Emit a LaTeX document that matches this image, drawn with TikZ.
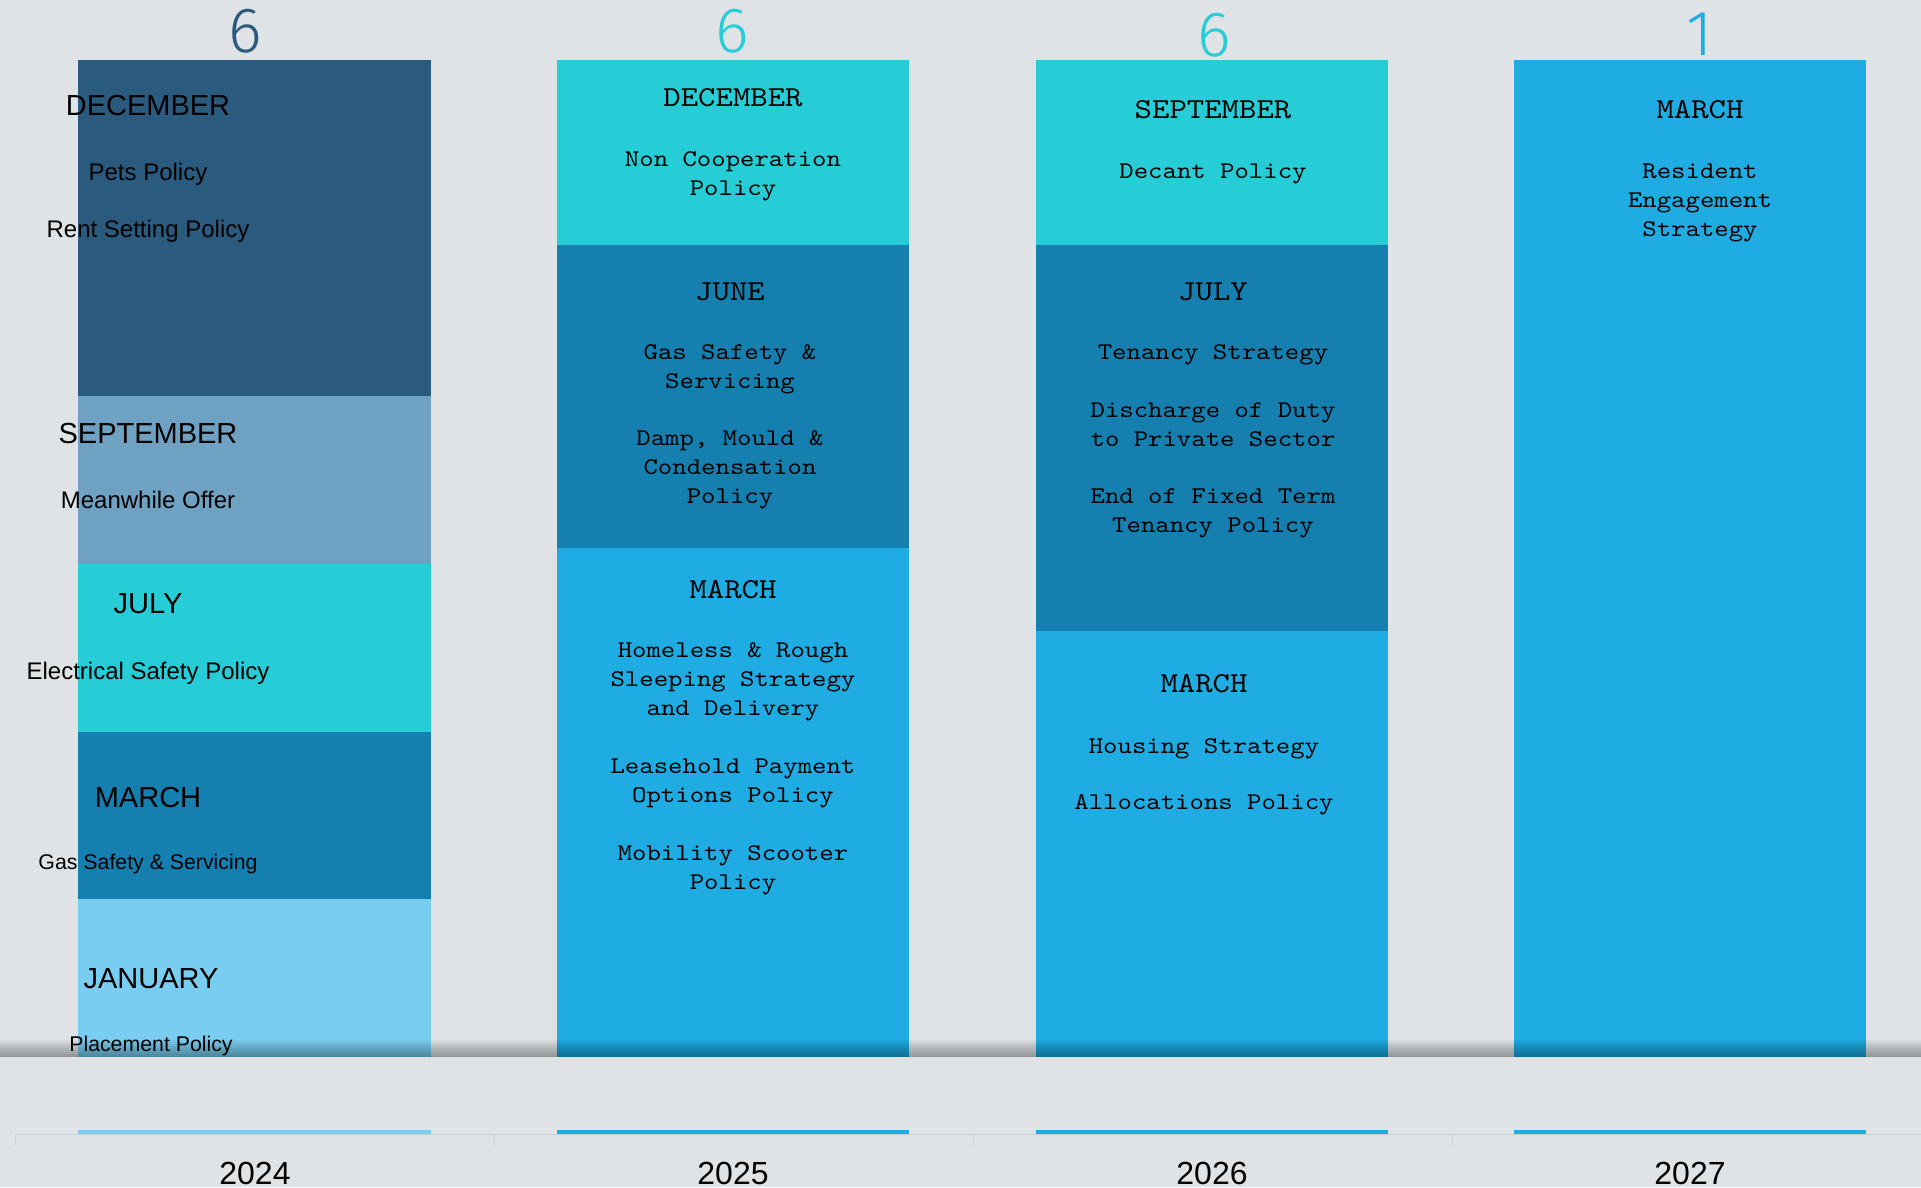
\documentclass[tikz,border=0pt]{standalone}
\usepackage{fontspec}
\setmainfont{Liberation Sans}
\setmonofont{lmmono10-regular.otf}[FakeStretch=1.143]
\newfontfamily\countfont{Fira Sans Light}

\definecolor{canvas}{HTML}{DFE3E6}
\definecolor{barNavy}{HTML}{2A5B7E}
\definecolor{barSteel}{HTML}{6FA2C2}
\definecolor{barAqua}{HTML}{26CDD6}
\definecolor{barTeal}{HTML}{1580AF}
\definecolor{barSky}{HTML}{79CDF0}
\definecolor{barBlue}{HTML}{1EACE2}
\definecolor{axisgray}{HTML}{CDD1D4}

\tikzset{
  sansmonth/.style={anchor=base, inner sep=0pt, font=\fontsize{29}{35}\selectfont},
  sansitem/.style={anchor=base, inner sep=0pt, font=\fontsize{24}{29}\selectfont},
  sanssmall/.style={anchor=base, inner sep=0pt, font=\fontsize{21.3}{26}\selectfont},
  monomonth/.style={anchor=base, inner sep=0pt, font=\ttfamily\fontsize{29}{35}\selectfont},
  monoitem/.style={anchor=base, inner sep=0pt, align=center, font=\ttfamily\fontsize{24}{29}\selectfont},
  count/.style={anchor=base, inner sep=0pt, font=\countfont\fontsize{64}{70}\selectfont},
  year/.style={anchor=base, inner sep=0pt, font=\fontsize{32}{38}\selectfont}
}

\begin{document}
\begin{tikzpicture}[x=1pt,y=-1pt]

% Canvas
\useasboundingbox (0,0) rectangle (1921,1187);
\fill[canvas] (0,0) rectangle (1921,1187);

% Column 2024
\fill[barNavy] (78,60) rectangle (431,396);
\fill[barSteel] (78,396) rectangle (431,564);
\fill[barAqua] (78,564) rectangle (431,732);
\fill[barTeal] (78,732) rectangle (431,899);
\fill[barSky] (78,899) rectangle (431,1057);

% Column 2025
\fill[barAqua] (557,60) rectangle (909,245);
\fill[barTeal] (557,245) rectangle (909,548);
\fill[barBlue] (557,548) rectangle (909,1057);

% Column 2026
\fill[barAqua] (1036,60) rectangle (1388,245);
\fill[barTeal] (1036,245) rectangle (1388,631);
\fill[barBlue] (1036,631) rectangle (1388,1057);

% Column 2027
\fill[barBlue] (1514,60) rectangle (1866,1057);

% Shadow above the axis band
\foreach \i in {0,...,8}
  \fill[black, opacity=0.045] (0,{1040+2*\i}) rectangle (1921,1057);

% Axis strips, line and ticks
\fill[barSky] (78,1130) rectangle (431,1134);
\fill[barBlue] (557,1130) rectangle (909,1134);
\fill[barBlue] (1036,1130) rectangle (1388,1134);
\fill[barBlue] (1514,1130) rectangle (1866,1134);
\draw[axisgray, line width=1.5pt] (15,1134.5) -- (1921,1134.5);
\foreach \x in {15,494,973,1452}
  \draw[axisgray, line width=1pt] (\x,1134) -- (\x,1145);

% Counts
\node[count, text=barNavy] (nA) at (245,52) {6};
\node[count, text=barAqua] (nB) at (732,52) {6};
\node[count, text=barAqua] (nC) at (1214,56) {6};
\node[count, text=barBlue] (nD) at (1700,55) {1};

% Labels 2024
\node[sansmonth] (decA) at (148,115) {DECEMBER};
\node[sansitem] (petsA) at (148,180) {Pets Policy};
\node[sansitem] (rentA) at (148,237) {Rent Setting Policy};
\node[sansmonth] (sepA) at (148,443) {SEPTEMBER};
\node[sansitem] (meanA) at (148,508) {Meanwhile Offer};
\node[sansmonth] (julA) at (148,613) {JULY};
\node[sansitem] (elecA) at (148,679) {Electrical Safety Policy};
\node[sansmonth] (marA) at (148,807) {MARCH};
\node[sanssmall] (gasA) at (148,869) {Gas Safety \& Servicing};
\node[sansmonth] (janA) at (151,988) {JANUARY};
\node[sanssmall] (placeA) at (151,1051) {Placement Policy};

% Labels 2025 (multi-line nodes sit on their last line)
\node[monomonth] (decB) at (733,106) {DECEMBER};
\node[monoitem] (coopB) at (733,195) {Non Cooperation\\Policy};
\node[monomonth] (junB) at (730,300) {JUNE};
\node[monoitem] (gasB) at (730,388) {Gas Safety \&\\Servicing};
\node[monoitem] (dampB) at (730,503) {Damp, Mould \&\\Condensation\\Policy};
\node[monomonth] (marB) at (733,598) {MARCH};
\node[monoitem] (homeB) at (733,715) {Homeless \& Rough\\Sleeping Strategy\\and Delivery};
\node[monoitem] (leaseB) at (733,802) {Leasehold Payment\\Options Policy};
\node[monoitem] (scootB) at (733,889) {Mobility Scooter\\Policy};

% Labels 2026
\node[monomonth] (sepC) at (1213,118) {SEPTEMBER};
\node[monoitem] (decantC) at (1213,178) {Decant Policy};
\node[monomonth] (julC) at (1213,300) {JULY};
\node[monoitem] (tenC) at (1213,359) {Tenancy Strategy};
\node[monoitem] (dutyC) at (1213,446) {Discharge of Duty\\to Private Sector};
\node[monoitem] (fixedC) at (1213,532) {End of Fixed Term\\Tenancy Policy};
\node[monomonth] (marC) at (1204,692) {MARCH};
\node[monoitem] (housC) at (1204,753) {Housing Strategy};
\node[monoitem] (allocC) at (1204,809) {Allocations Policy};

% Labels 2027
\node[monomonth] (marD) at (1700,118) {MARCH};
\node[monoitem] (resD) at (1700,236) {Resident\\Engagement\\Strategy};

% Years
\node[year] (yA) at (255,1184) {2024};
\node[year] (yB) at (733,1184) {2025};
\node[year] (yC) at (1212,1184) {2026};
\node[year] (yD) at (1690,1184) {2027};

\end{tikzpicture}
\end{document}
